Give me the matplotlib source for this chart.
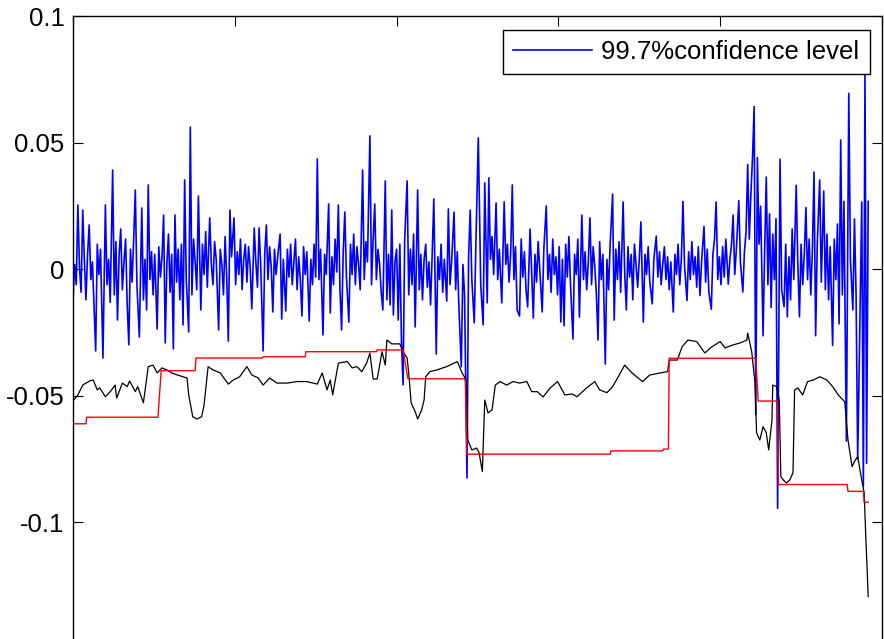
import matplotlib.pyplot as plt

# values (x = sample index, y = return)
blue_pts = [
    (0, -0.012), (2, 0.002), (4, -0.006), (6, 0.0255), (8, 0.001), (10, -0.009), (12, 0.0235), (14, 0.004),
    (16, -0.012), (18, 0.006), (20, 0.0176), (22, -0.004), (24, 0.003), (26, -0.015), (28, -0.0322), (30, 0.010),
    (32, -0.002), (34, 0.008), (37, -0.035), (40, 0.0255), (42, -0.006), (44, 0.004), (46, -0.013), (49, 0.0393),
    (51, -0.010), (53, 0.011), (55, -0.020), (57, 0.006), (59, 0.016), (61, -0.008), (63, 0.003), (65, 0.012),
    (67, -0.014), (69, -0.0298), (71, 0.008), (73, -0.005), (75, 0.012), (77, 0.0314), (79, -0.006), (82, -0.0267),
    (85, 0.0243), (87, -0.012), (89, 0.004), (91, -0.016), (93, 0.0334), (95, -0.004), (97, 0.007), (99, -0.010),
    (101, 0.006), (104, -0.0235), (106, 0.009), (108, -0.003), (110, 0.005), (112, 0.0215), (114, -0.029), (116, 0.002),
    (118, 0.014), (120, -0.009), (122, 0.006), (124, -0.0314), (126, 0.0215), (128, -0.005), (130, 0.008), (132, -0.012),
    (134, 0.010), (136, -0.0219), (138, 0.0354), (140, -0.004), (143, -0.0247), (145, 0.0563), (147, -0.010), (149, 0.012),
    (151, 0.003), (153, -0.008), (155, 0.029), (158, -0.016), (160, 0.010), (162, -0.002), (164, 0.015), (166, -0.007),
    (169, 0.0204), (171, 0.002), (173, -0.006), (175, 0.011), (177, 0.004), (180, -0.0239), (182, 0.008), (184, 0.002),
    (186, -0.010), (188, 0.013), (190, -0.003), (192, -0.0283), (194, 0.0235), (196, 0.005), (199, 0.0204),
    (201, -0.006), (203, 0.007), (205, -0.002), (207, 0.012), (209, -0.008), (211, 0.004), (213, 0.010), (215, -0.005),
    (217, 0.009), (219, 0.001), (221, -0.0156), (224, 0.0164), (226, 0.003), (228, -0.007), (230, 0.0164), (232, 0.002),
    (235, -0.0322), (237, 0.006), (239, 0.0176), (241, -0.004), (243, 0.009), (245, 0.001), (247, -0.0168), (249, 0.008),
    (251, -0.002), (253, 0.005), (256, 0.014), (258, -0.0196), (260, 0.004), (263, -0.0164), (265, 0.008), (267, -0.003),
    (269, 0.010), (271, -0.006), (273, 0.003), (275, 0.012), (277, -0.008), (279, 0.005), (281, -0.004), (283, -0.0184),
    (285, 0.009), (287, -0.002), (289, 0.007), (292, -0.0204), (294, 0.004), (296, -0.006), (298, 0.010),
    (300, -0.003), (302, 0.0437), (304, -0.004), (306, 0.008), (309, -0.0259), (311, 0.006), (313, -0.002), (316, 0.0259),
    (318, -0.0172), (320, 0.005), (322, -0.006), (324, 0.012), (326, -0.001), (328, 0.0255), (330, -0.008), (332, -0.0239),
    (334, 0.007), (336, 0.0227), (338, -0.003), (341, -0.0208), (343, 0.010), (345, -0.002), (347, 0.014), (349, -0.006),
    (351, 0.009), (353, 0.002), (355, -0.008), (358, 0.0393), (360, -0.004), (362, 0.011), (364, 0.003), (367, 0.0528),
    (369, -0.006), (371, 0.012), (373, 0.0259), (375, -0.004), (377, 0.008), (379, 0.002), (381, -0.009), (383, -0.016),
    (386, 0.035), (388, -0.012), (390, 0.006), (392, -0.014), (394, 0.0235), (396, -0.018), (398, 0.003),
    (400, 0.008), (402, -0.020), (404, 0.010), (406, -0.028), (408, -0.0456), (410, 0.012), (413, 0.035), (415, -0.010),
    (417, 0.008), (419, -0.006), (421, 0.014), (423, -0.0227), (426, 0.0314), (428, -0.008), (430, 0.006), (432, -0.012),
    (434, 0.004), (436, 0.010), (438, -0.007), (440, 0.003), (442, -0.014), (444, 0.006), (446, 0.0279), (449, -0.0334),
    (451, 0.005), (453, -0.004), (455, 0.010), (457, -0.009), (459, 0.004), (462, -0.0125), (464, 0.0239), (466, -0.006),
    (468, 0.003), (471, 0.0227), (473, -0.008), (475, 0.007), (477, -0.015), (480, -0.0385), (482, 0.002), (484, -0.010),
    (487, -0.0824), (489, 0.005), (491, 0.0235), (493, -0.004), (496, -0.0211), (498, 0.010),
    (501, 0.052), (504, -0.006), (507, -0.0219), (509, 0.0342), (512, -0.0132), (514, 0.0362), (516, 0.004), (518, 0.013),
    (520, -0.002), (523, 0.0263), (525, -0.004), (527, 0.008), (530, -0.0132), (533, 0.0267), (535, 0.002), (537, 0.010),
    (539, -0.005), (541, 0.006), (543, 0.0334), (545, -0.004), (547, 0.009), (549, -0.016), (552, -0.0184), (554, 0.012),
    (556, -0.003), (558, 0.007), (560, -0.008), (562, -0.0148), (565, 0.016), (567, -0.002), (569, -0.0192), (571, 0.006),
    (573, -0.005), (575, 0.011), (577, 0.000), (580, -0.0168), (582, 0.008), (585, 0.0251), (587, -0.004), (589, 0.006),
    (591, -0.009), (593, 0.012), (595, -0.002), (597, 0.005), (599, -0.010),
    (601, 0.009), (603, -0.0208), (605, 0.004), (607, -0.0223), (609, 0.010), (611, -0.003), (613, 0.013), (615, -0.006),
    (618, -0.0275), (620, 0.006), (622, -0.002), (624, 0.012), (626, -0.0188), (629, 0.0215), (631, -0.004), (633, 0.007),
    (635, -0.008), (637, 0.003), (639, 0.0204), (641, -0.006), (643, 0.009), (645, 0.001), (647, -0.010), (649, -0.0279),
    (651, 0.011), (653, -0.004), (655, 0.006), (658, -0.0374), (660, 0.004), (662, -0.008), (664, 0.010), (667, 0.0298),
    (669, -0.020), (671, 0.008), (673, -0.004), (675, 0.011), (677, -0.009), (680, 0.0267), (682, -0.002), (684, -0.016),
    (686, 0.009), (688, -0.003), (690, 0.006), (692, -0.012), (694, 0.010), (696, 0.002), (698, -0.007),
    (700, 0.004), (702, 0.0188), (705, -0.0208), (707, 0.006), (709, -0.002), (711, 0.009), (713, -0.005), (716, -0.0136),
    (718, 0.004), (721, 0.0132), (723, -0.003), (725, 0.007), (727, -0.006), (729, 0.002), (731, 0.009), (733, -0.004),
    (735, 0.005), (737, -0.008), (739, 0.003), (742, -0.0168), (744, 0.006), (746, -0.002), (748, 0.010), (750, -0.006),
    (752, 0.004), (754, 0.0269), (756, 0.001), (759, -0.0123), (761, 0.007), (763, -0.004), (765, 0.011), (767, -0.002),
    (769, 0.005), (771, -0.007), (773, 0.009), (775, -0.0103), (777, 0.003), (780, 0.017), (782, -0.005), (784, 0.008),
    (786, -0.009), (789, -0.0157), (791, 0.006), (793, 0.012), (795, 0.0267), (797, -0.004), (799, 0.005),
    (801, -0.006), (803, 0.009), (805, -0.003), (807, 0.012), (810, -0.0058), (812, 0.004), (814, 0.010), (816, 0.0215),
    (818, -0.002), (820, 0.008), (823, 0.0272), (825, 0.003), (828, -0.0089), (830, 0.007), (832, 0.015), (834, 0.0415),
    (836, 0.012), (838, 0.030), (840, 0.0444), (842, 0.0644), (844, -0.0573), (846, 0.0442), (848, 0.010), (850, 0.025),
    (853, -0.0262), (855, 0.008), (857, 0.0365), (859, -0.006), (861, 0.022), (863, -0.015), (865, 0.014), (867, -0.004),
    (869, 0.020), (871, -0.0944), (874, 0.0436), (876, -0.008), (879, -0.0147), (881, 0.010), (883, -0.0187), (885, 0.005),
    (887, -0.012), (889, 0.016), (891, -0.004), (894, 0.0333), (896, 0.002), (898, -0.0187),
    (900, 0.010), (902, -0.006), (904, 0.006), (906, 0.0245), (908, -0.004), (910, 0.012), (912, -0.010), (914, 0.008),
    (916, 0.0385), (918, -0.0262), (920, 0.010), (923, 0.0354), (925, -0.005), (928, 0.031), (930, -0.008), (932, 0.014),
    (934, -0.012), (936, 0.009), (939, -0.030), (941, 0.012), (943, -0.004), (945, 0.018), (947, -0.0215), (949, 0.0512),
    (951, -0.010), (953, 0.0269), (956, -0.0678), (959, 0.0696), (961, 0.004), (964, -0.016), (966, 0.020), (968, -0.010),
    (970, -0.075), (972, -0.0358), (975, 0.0267), (977, -0.0855), (979, 0.0776), (981, -0.0766), (983, 0.0269),
]

black_pts = [
    (1, -0.0516), (6, -0.0496), (12, -0.0457), (21, -0.0440), (25, -0.0437), (30, -0.0476), (33, -0.0468),
    (40, -0.0503), (46, -0.0483), (52, -0.0457), (54, -0.0508), (61, -0.0449), (67, -0.0463), (70, -0.0441),
    (77, -0.0483), (80, -0.0463), (87, -0.0527), (93, -0.0384), (99, -0.0378), (104, -0.0409), (110, -0.0389),
    (116, -0.0397), (122, -0.0409), (129, -0.0417), (136, -0.0424), (141, -0.0429), (143, -0.0496), (148, -0.0582),
    (153, -0.0591), (159, -0.0582), (162, -0.0536), (167, -0.0384), (173, -0.0397), (182, -0.0409), (192, -0.0453),
    (198, -0.0437), (206, -0.0424), (215, -0.0384), (221, -0.0417), (229, -0.0429), (235, -0.0457), (243, -0.0429),
    (252, -0.0449), (265, -0.0449), (277, -0.0443), (289, -0.0443), (302, -0.0453), (308, -0.0409), (314, -0.0476),
    (318, -0.0437), (321, -0.0496), (328, -0.0370), (339, -0.0364), (345, -0.0389), (351, -0.0384), (357, -0.0404),
    (363, -0.0370), (367, -0.0330), (371, -0.0433), (376, -0.0433), (382, -0.0325), (386, -0.0378), (388, -0.0279),
    (394, -0.0294), (404, -0.0294), (408, -0.0325), (413, -0.0350), (415, -0.0409), (418, -0.0528), (423, -0.0562),
    (426, -0.0591), (431, -0.0555), (434, -0.0516), (436, -0.0424), (441, -0.0404), (450, -0.0397), (457, -0.0389),
    (462, -0.0384), (475, -0.0364), (481, -0.0409), (486, -0.0437), (488, -0.0674), (493, -0.0713), (499, -0.0706),
    (502, -0.0725), (506, -0.0799), (509, -0.0516), (513, -0.0567), (518, -0.0555), (522, -0.0457), (528, -0.0443),
    (536, -0.0457), (544, -0.0443), (552, -0.0449), (561, -0.0443), (567, -0.0483), (574, -0.0483), (581, -0.0504),
    (590, -0.0468), (599, -0.0443), (608, -0.0496), (617, -0.0492), (623, -0.0503), (635, -0.0468), (645, -0.0443),
    (651, -0.0476), (660, -0.0487), (667, -0.0463), (674, -0.0424), (682, -0.0378), (691, -0.0409), (704, -0.0443),
    (713, -0.0417), (726, -0.0409), (735, -0.0404), (737, -0.0358), (747, -0.0358), (753, -0.0305), (760, -0.0279),
    (771, -0.0285), (781, -0.0330), (790, -0.0305), (800, -0.0285), (806, -0.0310), (816, -0.0298), (824, -0.0291),
    (833, -0.0279), (834, -0.0251), (839, -0.0325), (843, -0.0449), (845, -0.0646), (849, -0.0674), (853, -0.0621),
    (857, -0.0646), (860, -0.0713), (864, -0.0595), (865, -0.0457), (870, -0.0463), (873, -0.0516), (875, -0.0819),
    (878, -0.0832), (882, -0.0844), (886, -0.0832), (890, -0.0804), (892, -0.0476), (896, -0.0468), (902, -0.0496),
    (908, -0.0443), (915, -0.0437), (923, -0.0424), (932, -0.0437), (939, -0.0463), (946, -0.0496), (954, -0.0523),
    (958, -0.0674), (963, -0.0779), (967, -0.0753), (970, -0.0740), (975, -0.0832), (978, -0.0883), (980, -0.1056),
    (983, -0.1293),
]

red_pts = [
    (0, -0.061), (16, -0.061), (17, -0.0584), (105, -0.0584), (109, -0.040), (151, -0.040), (152, -0.035),
    (234, -0.035), (235, -0.0345), (287, -0.0345), (288, -0.0325), (375, -0.0325), (376, -0.0318), (408, -0.0318),
    (414, -0.0432), (484, -0.0432), (485, -0.044), (487, -0.073), (664, -0.073), (665, -0.0717), (729, -0.0717),
    (730, -0.071), (736, -0.071), (737, -0.0351), (844, -0.0351), (847, -0.052), (871, -0.052), (872, -0.085),
    (957, -0.085), (958, -0.0877), (977, -0.0877), (978, -0.092), (983, -0.092),
]

y_ticks = [-0.1, -0.05, 0, 0.05, 0.1]
y_ticklabels = ['-0.1', '-0.05', '0', '0.05', '0.1']
x_ticks = [0, 200, 400, 600, 800, 1000]

plt.rcParams['font.family'] = ['Liberation Sans', 'DejaVu Sans']

fig = plt.figure(figsize=(8.84, 6.39), dpi=100)
ax = fig.add_axes([0.0826, -0.0156, 0.9151, 0.9898])

bx, by = zip(*blue_pts)
kx, ky = zip(*black_pts)
rx, ry = zip(*red_pts)

ax.plot(bx, by, color='blue', linewidth=1.2, label='99.7%confidence level')
ax.plot(kx, ky, color='black', linewidth=0.9)
ax.plot(rx, ry, color='red', linewidth=1.0)

ax.set_xlim(0, 1000)
ax.set_ylim(-0.15, 0.1)
ax.set_xticks(x_ticks)
ax.set_xticklabels([])
ax.set_yticks(y_ticks)
ax.set_yticklabels(y_ticklabels)
ax.tick_params(direction='in', length=7, width=0.8, top=True, right=True, labelsize=18.5, pad=6)
for s in ax.spines.values():
    s.set_linewidth(1.0)

leg = ax.legend(loc='upper right', bbox_to_anchor=(0.985, 0.979), borderaxespad=0,
                fontsize=18.5, handlelength=3.1, handletextpad=0.35, borderpad=0.4,
                fancybox=False, framealpha=1, edgecolor='black')
leg.get_frame().set_linewidth(1.0)

fig.savefig('out.png', dpi=100)
